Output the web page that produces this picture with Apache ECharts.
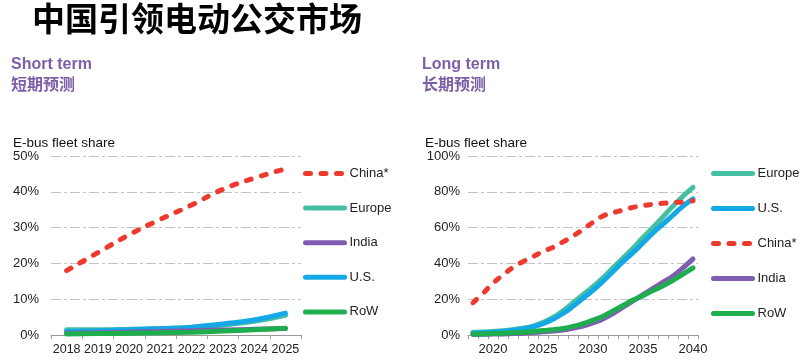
<!DOCTYPE html>
<html><head><meta charset="utf-8">
<script src="https://cdn.jsdelivr.net/npm/echarts@6/dist/echarts.min.js"></script>
<style>html,body{margin:0;padding:0;background:#fff}#c{width:800px;height:363px}</style>
</head><body><div id="c"></div>
<script>
// ---- Data ----
const shortYears = ['2018','2019','2020','2021','2022','2023','2024','2025'];
const shortChina  = [18, 23, 28, 32.3, 36.3, 40.7, 43.8, 46.4];
const shortEurope = [1.5, 1.5, 1.6, 1.8, 2.1, 2.8, 3.8, 5.5];
const shortIndia  = [0.5, 0.6, 0.8, 1.0, 1.2, 1.4, 1.6, 1.8];
const shortUS     = [1.0, 1.2, 1.5, 1.8, 2.2, 3.1, 4.2, 6.1];
const shortRoW    = [0.3, 0.4, 0.5, 0.6, 0.8, 1.1, 1.5, 1.9];

const longYears = ['2018','2019','2020','2021','2022','2023','2024','2025','2026','2027','2028','2029','2030','2031','2032','2033','2034','2035','2036','2037','2038','2039','2040'];
const longChina  = [18, 23.3, 28.9, 33.5, 37.8, 41, 43.8, 46.6, 49, 52, 55.3, 59, 63, 66.5, 68.3, 69.8, 71.3, 72.3, 73, 73.6, 74, 74.3, 75];
const longEurope = [1.5, 1.7, 2.0, 2.4, 3.0, 3.8, 5.0, 7.0, 9.8, 13.5, 18, 22.5, 27, 32, 37.5, 43, 48.5, 54.5, 60, 66, 72, 77.5, 82.5];
const longUS     = [1.0, 1.3, 1.6, 2.0, 2.6, 3.4, 4.6, 6.3, 8.8, 12, 16, 20.5, 25, 30, 35.5, 41, 46, 51.5, 57, 62, 67, 72, 76];
const longIndia  = [0.3, 0.4, 0.5, 0.6, 0.8, 1.0, 1.4, 1.8, 2.2, 2.8, 3.8, 5.0, 6.8, 9.0, 12, 15.5, 19, 22.5, 26, 29.5, 33, 37.5, 42.5];
const longRoW    = [0.5, 0.6, 0.8, 1.0, 1.2, 1.5, 2.0, 2.5, 3.0, 3.6, 4.8, 6.3, 8.3, 10.5, 13.5, 16.5, 19.5, 22, 24.8, 27.5, 30.5, 34, 37.5];

const shortLegend = ['China*', 'Europe', 'India', 'U.S.', 'RoW'];
const longLegend  = ['Europe', 'U.S.', 'China*', 'India', 'RoW'];
const leftTicks  = [0, 10, 20, 30, 40, 50];
const rightTicks = [0, 20, 40, 60, 80, 100];

// ---- Styles ----
const colors = {'China*':'#EE3A2E','Europe':'#45BFA4','India':'#7F5DB3','U.S.':'#14A9E6','RoW':'#1FAE4D'};
const FONT = 'Liberation Sans, Arial, sans-serif';
const purple = '#7D5FA8';
const W = 5;

function mkSeries(name, data, idx) {
  const dashed = name === 'China*';
  return {
    name, type: 'line', data, xAxisIndex: idx, yAxisIndex: idx,
    smooth: true, symbol: 'none', silent: true,
    lineStyle: { color: colors[name], width: W, type: dashed ? [5, 10.5] : 'solid', cap: 'round' },
    itemStyle: { color: colors[name] }
  };
}

const gridLine = { show: true, lineStyle: { color: '#c3c3c3', width: 1, type: [10, 3, 3, 3] } };
const legendCommon = {
  orient: 'vertical', top: 167, padding: 0, itemWidth: 39, itemHeight: 14, selectedMode: false,
  itemStyle: { opacity: 0 },
  lineStyle: { width: 5, cap: 'round' },
  textStyle: { fontSize: 13, color: '#222', fontFamily: FONT }
};

const option = {
  animation: false,
  textStyle: { fontFamily: FONT },
  title: [
    { text: '中国引领电动公交市场', left: 32, top: 2, padding: 0,
      textStyle: { fontFamily: 'Noto Sans CJK SC', fontWeight: 'bold', fontSize: 33, color: '#000' } },
    { text: 'Short term', left: 11, top: 57, padding: 0,
      textStyle: { fontFamily: FONT, fontWeight: 'bold', fontSize: 16, color: purple } },
    { text: '短期预测', left: 11, top: 76, padding: 0,
      textStyle: { fontFamily: 'Noto Sans CJK SC', fontWeight: 'bold', fontSize: 16, color: purple } },
    { text: 'Long term', left: 422, top: 57, padding: 0,
      textStyle: { fontFamily: FONT, fontWeight: 'bold', fontSize: 16, color: purple } },
    { text: '长期预测', left: 422, top: 76, padding: 0,
      textStyle: { fontFamily: 'Noto Sans CJK SC', fontWeight: 'bold', fontSize: 16, color: purple } },
    { text: 'E-bus fleet share', left: 13, top: 136, padding: 0,
      textStyle: { fontFamily: FONT, fontWeight: 'normal', fontSize: 13.5, color: '#111' } },
    { text: 'E-bus fleet share', left: 425, top: 136, padding: 0,
      textStyle: { fontFamily: FONT, fontWeight: 'normal', fontSize: 13.5, color: '#111' } }
  ],
  grid: [
    { left: 51, top: 156, width: 250, height: 179 },
    { left: 468, top: 156, width: 230, height: 179 }
  ],
  legend: [
    Object.assign({}, legendCommon, { data: shortLegend, left: 303, itemGap: 21.6 }),
    Object.assign({}, legendCommon, { data: longLegend, left: 711, itemGap: 22 })
  ],
  xAxis: [
    { type: 'category', gridIndex: 0, data: shortYears, boundaryGap: true,
      axisLine: { lineStyle: { color: '#9a9a9a', width: 1 } },
      axisTick: { show: true, length: 4, interval: 0, lineStyle: { color: '#9a9a9a' } },
      axisLabel: { interval: 0, fontSize: 12.5, color: '#222', margin: 8, fontFamily: FONT } },
    { type: 'category', gridIndex: 1, data: longYears, boundaryGap: true,
      axisLine: { lineStyle: { color: '#9a9a9a', width: 1 } },
      axisTick: { show: true, length: 4, interval: 0, lineStyle: { color: '#9a9a9a' } },
      axisLabel: { interval: (i, v) => Number(v) % 5 === 0, fontSize: 13, color: '#222', margin: 8, fontFamily: FONT } }
  ],
  yAxis: [
    { type: 'value', gridIndex: 0, min: leftTicks[0], max: leftTicks[leftTicks.length - 1], interval: 10,
      axisLine: { show: false }, axisTick: { show: false }, splitLine: gridLine,
      axisLabel: { formatter: '{value}%', fontSize: 13, color: '#222', margin: 12, fontFamily: FONT } },
    { type: 'value', gridIndex: 1, min: rightTicks[0], max: rightTicks[rightTicks.length - 1], interval: 20,
      axisLine: { show: false }, axisTick: { show: false }, splitLine: gridLine,
      axisLabel: { formatter: '{value}%', fontSize: 13, color: '#222', margin: 8, fontFamily: FONT } }
  ],
  series: [
    mkSeries('Europe', shortEurope, 0),
    mkSeries('U.S.', shortUS, 0),
    mkSeries('India', shortIndia, 0),
    mkSeries('RoW', shortRoW, 0),
    mkSeries('China*', shortChina, 0),
    mkSeries('Europe', longEurope, 1),
    mkSeries('U.S.', longUS, 1),
    mkSeries('India', longIndia, 1),
    mkSeries('RoW', longRoW, 1),
    mkSeries('China*', longChina, 1)
  ]
};
const chart = echarts.init(document.getElementById('c'), null, { renderer: 'canvas' });
chart.setOption(option);
</script>
</body></html>
